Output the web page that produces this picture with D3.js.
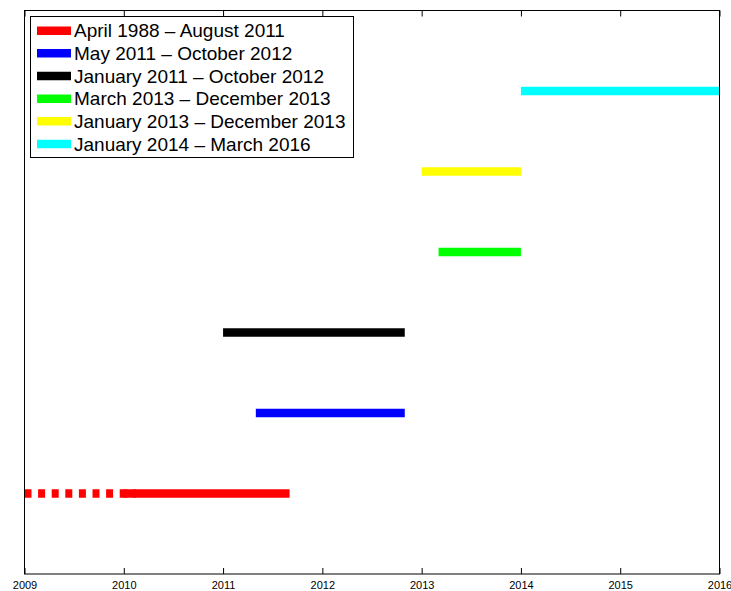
<!DOCTYPE html>
<html><head><meta charset="utf-8">
<script src="https://cdn.jsdelivr.net/npm/d3@7"></script>
<style>body{margin:0;background:#fff}svg{display:block}</style>
</head><body>
<script>
const labels = ["April 1988 \u2013 August 2011","May 2011 \u2013 October 2012","January 2011 \u2013 October 2012","March 2013 \u2013 December 2013","January 2013 \u2013 December 2013","January 2014 \u2013 March 2016"];
const colors = ["#ff0000","#0000ff","#000000","#00ff00","#ffff00","#00ffff"];
const levels = [1,2,3,4,5,6];
const starts = [2010.0, 2011.33, 2011.0, 2013.17, 2013.0, 2014.0];
const ends   = [2011.67, 2012.83, 2012.83, 2014.0, 2014.0, 2016.17];
const dashedStart = [2009.0];
const dashedEnd = [2010.12];
const xTicks = [2009,2010,2011,2012,2013,2014,2015,2016];

(function(){
const W=731,H=591, L=24.5, R=719.5, T=10.5, B=574;
const svg=d3.select("body").append("svg").attr("width",W).attr("height",H);
const x=d3.scaleLinear().domain([2009,2016]).range([L,R]);
const y=d3.scaleLinear().domain([0,7]).range([B,T]);

svg.append("defs").append("clipPath").attr("id","clip").append("rect")
  .attr("x",L).attr("y",T).attr("width",R-L).attr("height",B-T);
const g=svg.append("g").attr("clip-path","url(#clip)");

g.append("line").attr("x1",x(dashedStart[0])).attr("x2",x(dashedEnd[0]))
  .attr("y1",y(levels[0])).attr("y2",y(levels[0]))
  .attr("stroke",colors[0]).attr("stroke-width",8.5).attr("stroke-dasharray","7,6.6");

levels.forEach((lv,i)=>{
  g.append("line").attr("x1",x(starts[i])).attr("x2",x(ends[i]))
   .attr("y1",y(lv)).attr("y2",y(lv)).attr("stroke",colors[i]).attr("stroke-width",8.5);
});

svg.append("rect").attr("x",L).attr("y",T).attr("width",R-L).attr("height",B-T)
  .attr("fill","none").attr("stroke","#000").attr("stroke-width",1);

const bottomAxis=d3.axisBottom(x).tickValues(xTicks).tickFormat(d3.format("d")).tickSizeInner(-6).tickSizeOuter(0).tickPadding(7);
const bax=svg.append("g").attr("transform",`translate(0,${B})`).call(bottomAxis);
bax.select(".domain").remove();
bax.selectAll("text").attr("font-family","Liberation Sans, Arial, sans-serif").attr("font-size",11).attr("fill","#000");
bax.selectAll("line").attr("stroke","#000");
const topAxis=d3.axisTop(x).tickValues(xTicks).tickFormat("").tickSizeInner(-6).tickSizeOuter(0);
const tax=svg.append("g").attr("transform",`translate(0,${T})`).call(topAxis);
tax.select(".domain").remove();
tax.selectAll("line").attr("stroke","#000");

const lg=svg.append("g");
lg.append("rect").attr("x",30.5).attr("y",16.5).attr("width",323).attr("height",141)
  .attr("fill","#fff").attr("stroke","#000").attr("stroke-width",1);
labels.forEach((t,i)=>{
  const cy=30.7+i*22.66;
  lg.append("line").attr("x1",37).attr("x2",71).attr("y1",cy).attr("y2",cy)
    .attr("stroke",colors[i]).attr("stroke-width",8.5);
  lg.append("text").attr("x",74).attr("y",cy+6.5).text(t)
    .attr("font-family","Liberation Sans, Arial, sans-serif").attr("font-size",19).attr("fill","#000");
});
})();
</script>
</body></html>
